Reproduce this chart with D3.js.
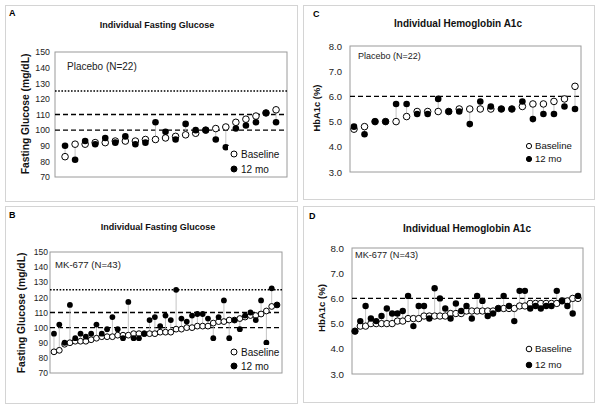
<!DOCTYPE html>
<html>
<head>
<meta charset="utf-8">
<script src="https://cdn.jsdelivr.net/npm/d3@7"></script>
<style>
  body { margin: 0; background: #fff; }
  svg { font-family: "Liberation Sans", Arial, sans-serif; }
</style>
</head>
<body>
<svg id="chart" width="600" height="408"></svg>
<script>
// values, subjects sorted by baseline
const placeboGlucoseBase = [83, 91, 91, 92, 92, 93, 93, 93, 94, 94, 95, 96, 97, 98, 100, 101, 102, 105, 107, 109, 111, 113];
const placeboGlucose12 = [90, 81, 93, 91, 95, 92, 96, 91, 92, 105, 99, 94, 104, 100, 100, 94, 89, 101, 103, 105, 111, 105];

const placeboA1cBase = [4.7, 4.8, 5.0, 5.0, 5.0, 5.2, 5.4, 5.4, 5.4, 5.4, 5.5, 5.5, 5.5, 5.5, 5.5, 5.5, 5.6, 5.7, 5.7, 5.8, 5.9, 6.4];
const placeboA1c12 = [4.8, 4.5, 5.0, 5.0, 5.7, 5.7, 5.3, 5.3, 5.9, 5.4, 5.4, 4.9, 5.8, 5.6, 5.5, 5.5, 5.8, 5.1, 5.3, 5.3, 5.6, 5.5];

const mkGlucoseBase = [84, 85, 89, 90, 91, 91, 91, 92, 93, 94, 94, 94, 95, 95, 95, 96, 96, 96, 96, 96, 97, 97,
  97, 99, 99, 100, 100, 101, 101, 101, 103, 104, 104, 105, 105, 106, 107, 108, 108, 109, 111, 114, 115];
const mkGlucose12 = [96, 102, 90, 115, 93, 96, 94, 96, 102, 96, 99, 107, 99, 93, 117, 93, 93, 96, 105, 107, 101, 108,
  105, 125, 106, 104, 108, 109, 109, 106, 93, 107, 118, 93, 105, 99, 108, 110, 105, 118, 90, 126, 115];

const mkA1cBase = [4.7, 4.9, 4.9, 5.0, 5.0, 5.0, 5.0, 5.0, 5.1, 5.1, 5.2, 5.2, 5.2, 5.3, 5.3, 5.3, 5.3, 5.3, 5.4, 5.4, 5.4, 5.5,
  5.5, 5.5, 5.5, 5.5, 5.5, 5.6, 5.6, 5.6, 5.6, 5.7, 5.7, 5.8, 5.8, 5.8, 5.8, 5.8, 5.8, 5.9, 5.9, 6.0, 6.0];
const mkA1c12 = [4.7, 5.1, 5.7, 5.2, 5.1, 5.3, 5.6, 5.4, 5.4, 5.5, 6.1, 4.9, 5.7, 5.7, 5.2, 6.4, 6.0, 5.6, 5.2, 5.8, 5.5, 5.7,
  5.2, 6.1, 5.9, 5.3, 5.4, 5.6, 6.1, 5.7, 5.1, 6.3, 6.3, 5.6, 5.7, 5.6, 5.7, 5.7, 6.3, 5.9, 5.7, 5.4, 6.1];

const glucoseTicks = [70, 80, 90, 100, 110, 120, 130, 140, 150];
const a1cTicks = [3, 4, 5, 6, 7, 8];
const glucoseDotted = [125];
const glucoseDashed = [110, 100];
const a1cDashed = [6.0];
const legendLabels = ['Baseline', '12 mo'];

const svg = d3.select('#chart');

const panels = [
  { letter: 'A', title: 'Individual Fasting Glucose', group: 'Placebo (N=22)', yLabel: 'Fasting Glucose (mg/dL)',
    base: placeboGlucoseBase, m12: placeboGlucose12, ticks: glucoseTicks, fmt: d3.format('d'),
    dotted: glucoseDotted, dashed: glucoseDashed,
    frame: [5, 5, 297, 201], plot: { l: 55, r: 287, t: 52, b: 177 }, pad: [1.0, 1.09],
    letterPos: [9, 16], titlePos: [157, 28], titleFs: 9, groupPos: [67, 70], groupFs: 10,
    yLabelPos: [25.5, 114], yLabelFs: 10.3, tickFs: 8.8, tickPad: 5, r: 3.3,
    legend: { box: [228, 146, 286, 176], mx: 234, y: [154, 169], tx: 241, fs: 10, r: 3 } },
  { letter: 'C', title: 'Individual Hemoglobin A1c', group: 'Placebo (N=22)', yLabel: 'HbA1c (%)',
    base: placeboA1cBase, m12: placeboA1c12, ticks: a1cTicks, fmt: d3.format('.1f'),
    dotted: [], dashed: a1cDashed,
    frame: [303, 5, 594, 199], plot: { l: 350, r: 581, t: 46, b: 172 }, pad: [0.38, 0.57],
    letterPos: [313, 17], titlePos: [458, 27], titleFs: 10, groupPos: [358, 59], groupFs: 9,
    yLabelPos: [317, 108], yLabelFs: 9.4, tickFs: 9.5, tickPad: 8, r: 3.3,
    legend: { box: [523, 138, 579, 170], mx: 529, y: [146, 159], tx: 535, fs: 9.6, r: 2.6 } },
  { letter: 'B', title: 'Individual Fasting Glucose', group: 'MK-677 (N=43)', yLabel: 'Fasting Glucose (mg/dL)',
    base: mkGlucoseBase, m12: mkGlucose12, ticks: glucoseTicks, fmt: d3.format('d'),
    dotted: glucoseDotted, dashed: glucoseDashed,
    frame: [5, 206, 297, 403], plot: { l: 50, r: 282, t: 252, b: 373 }, pad: [0.75, 0.94],
    letterPos: [9, 218], titlePos: [158, 230], titleFs: 9, groupPos: [55, 268], groupFs: 9.6,
    yLabelPos: [21, 313], yLabelFs: 10.3, tickFs: 8.5, tickPad: 2, r: 2.9,
    legend: { box: [223, 345, 281, 372], mx: 234, y: [352, 366], tx: 241, fs: 10, r: 3 } },
  { letter: 'D', title: 'Individual Hemoglobin A1c', group: 'MK-677 (N=43)', yLabel: 'HbA1c (%)',
    base: mkA1cBase, m12: mkA1c12, ticks: a1cTicks, fmt: d3.format('.1f'),
    dotted: [], dashed: a1cDashed,
    frame: [303, 206, 594, 402], plot: { l: 352, r: 583, t: 248, b: 374 }, pad: [0.56, 0.94],
    letterPos: [309, 219], titlePos: [467, 232], titleFs: 10, groupPos: [355, 258], groupFs: 9.2,
    yLabelPos: [321.5, 308], yLabelFs: 9.6, tickFs: 9.8, tickPad: 8, r: 3.2,
    legend: { box: [523, 340, 581, 373], mx: 529, y: [349, 365], tx: 535, fs: 9.6, r: 2.8 } }
];

function drawPanel(p) {
  const g = svg.append('g');
  const n = p.base.length;
  const idx = d3.range(n);

  // outer frame of the sub-figure
  g.append('rect')
    .attr('x', p.frame[0] + 0.5).attr('y', p.frame[1] + 0.5)
    .attr('width', p.frame[2] - p.frame[0]).attr('height', p.frame[3] - p.frame[1])
    .attr('fill', 'none').attr('stroke', '#d4d4d4');

  const x = d3.scaleLinear().domain([1 - p.pad[0], n + p.pad[1]]).range([p.plot.l, p.plot.r]);
  const y = d3.scaleLinear().domain(d3.extent(p.ticks)).range([p.plot.b, p.plot.t]);

  g.append('rect')
    .attr('x', p.plot.l).attr('y', p.plot.t)
    .attr('width', p.plot.r - p.plot.l).attr('height', p.plot.b - p.plot.t)
    .attr('fill', 'none').attr('stroke', '#9a9a9a');

  const ax = g.append('g')
    .attr('transform', `translate(${p.plot.l},0)`)
    .call(d3.axisLeft(y).tickValues(p.ticks).tickFormat(p.fmt).tickSize(0).tickPadding(p.tickPad));
  ax.select('.domain').remove();
  ax.attr('font-family', '"Liberation Sans", Arial, sans-serif').attr('font-size', p.tickFs);
  ax.selectAll('text').attr('fill', '#222');

  // reference lines
  g.selectAll('.dotted').data(p.dotted).enter().append('line')
    .attr('x1', p.plot.l).attr('x2', p.plot.r)
    .attr('y1', d => y(d)).attr('y2', d => y(d))
    .attr('stroke', '#000').attr('stroke-width', 1.6).attr('stroke-dasharray', '1.6,1.6');
  g.selectAll('.dashed').data(p.dashed).enter().append('line')
    .attr('x1', p.plot.l).attr('x2', p.plot.r)
    .attr('y1', d => y(d)).attr('y2', d => y(d))
    .attr('stroke', '#000').attr('stroke-width', 1.4).attr('stroke-dasharray', '5,3');

  // connectors baseline -> 12 mo
  g.selectAll('.conn').data(idx).enter().append('line')
    .attr('x1', i => x(i + 1)).attr('x2', i => x(i + 1))
    .attr('y1', i => y(p.base[i])).attr('y2', i => y(p.m12[i]))
    .attr('stroke', '#b5b5b5').attr('stroke-width', 0.8);

  g.selectAll('.base').data(idx).enter().append('circle')
    .attr('cx', i => x(i + 1)).attr('cy', i => y(p.base[i])).attr('r', p.r)
    .attr('fill', '#fff').attr('stroke', '#000').attr('stroke-width', 1);
  g.selectAll('.m12').data(idx).enter().append('circle')
    .attr('cx', i => x(i + 1)).attr('cy', i => y(p.m12[i])).attr('r', p.r)
    .attr('fill', '#000');

  // legend
  const L = p.legend;
  g.append('rect').attr('x', L.box[0]).attr('y', L.box[1])
    .attr('width', L.box[2] - L.box[0]).attr('height', L.box[3] - L.box[1]).attr('fill', '#fff');
  legendLabels.forEach((lab, k) => {
    g.append('circle').attr('cx', L.mx).attr('cy', L.y[k]).attr('r', L.r)
      .attr('fill', k === 0 ? '#fff' : '#000').attr('stroke', '#000').attr('stroke-width', 1);
    g.append('text').attr('x', L.tx).attr('y', L.y[k]).attr('dy', '0.36em')
      .attr('font-size', L.fs).attr('fill', '#111').text(lab);
  });

  // texts
  g.append('text').attr('x', p.letterPos[0]).attr('y', p.letterPos[1])
    .attr('font-size', 9).attr('font-weight', 'bold').text(p.letter);
  g.append('text').attr('x', p.titlePos[0]).attr('y', p.titlePos[1])
    .attr('text-anchor', 'middle').attr('font-size', p.titleFs).attr('font-weight', 'bold')
    .attr('fill', '#111').text(p.title);
  g.append('text').attr('x', p.groupPos[0]).attr('y', p.groupPos[1])
    .attr('font-size', p.groupFs).attr('fill', '#222').text(p.group);
  g.append('text')
    .attr('transform', `translate(${p.yLabelPos[0]},${p.yLabelPos[1]}) rotate(-90)`)
    .attr('text-anchor', 'middle').attr('dy', '0.35em')
    .attr('font-size', p.yLabelFs).attr('font-weight', 'bold').attr('fill', '#111').text(p.yLabel);
}

panels.forEach(drawPanel);
</script>
</body>
</html>
